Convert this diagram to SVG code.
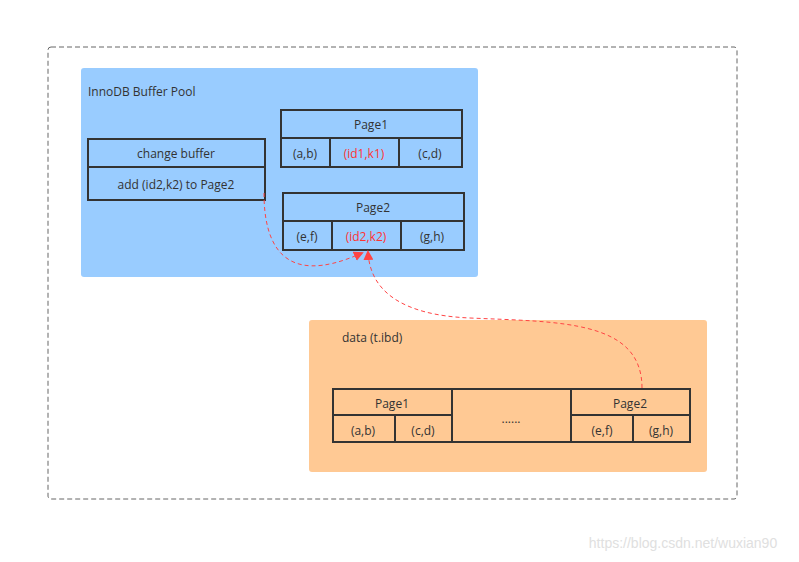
<svg xmlns="http://www.w3.org/2000/svg" width="799" height="562" viewBox="0 0 799 562">
<style>
text{font-family:"Open Sans","DejaVu Sans",sans-serif;font-size:12px;fill:#333;text-anchor:middle;dominant-baseline:central}
.c{fill:none;stroke:#333;stroke-width:2}
.r{fill:#ff3333}
.e{fill:none;stroke:#ff4444;stroke-width:1;stroke-dasharray:4,3}
</style>
<defs><marker id="a" markerWidth="10" markerHeight="10" refX="8" refY="5" orient="auto" markerUnits="userSpaceOnUse"><path d="M0,0 L10,5 L0,10 Z" fill="#ff4444"/></marker></defs>
<rect x="0" y="0" width="799" height="562" fill="#fff"/>
<rect x="48" y="47" width="689" height="452" rx="3" fill="none" stroke="#666" stroke-dasharray="5,3"/>
<g id="pool">
<rect x="81" y="68" width="397" height="209" rx="3" fill="#99ccff"/>
<text x="88" y="91" style="text-anchor:start">InnoDB Buffer Pool</text>
</g>
<g id="changebuffer">
<rect class="c" x="88" y="139" width="177" height="61"/>
<line class="c" x1="88" y1="167" x2="265" y2="167"/>
<text x="176" y="153">change buffer</text>
<text x="176" y="184">add (id2,k2) to Page2</text>
</g>
<g id="bpPage1">
<rect class="c" x="281" y="110" width="181" height="57"/>
<line class="c" x1="281" y1="138" x2="462" y2="138"/>
<line class="c" x1="330" y1="138" x2="330" y2="167"/>
<line class="c" x1="399" y1="138" x2="399" y2="167"/>
<text x="371" y="124">Page1</text>
<text x="305" y="153">(a,b)</text>
<text x="364" y="153" class="r">(id1,k1)</text>
<text x="430" y="153">(c,d)</text>
</g>
<g id="bpPage2">
<rect class="c" x="283" y="193" width="181" height="57"/>
<line class="c" x1="283" y1="221" x2="464" y2="221"/>
<line class="c" x1="332" y1="221" x2="332" y2="250"/>
<line class="c" x1="401" y1="221" x2="401" y2="250"/>
<text x="373" y="207">Page2</text>
<text x="307" y="236">(e,f)</text>
<text x="366" y="236" class="r">(id2,k2)</text>
<text x="432" y="236">(g,h)</text>
</g>
<g id="data">
<rect x="309" y="320" width="398" height="152" rx="3" fill="#ffc994"/>
<text x="342" y="337" style="text-anchor:start">data (t.ibd)</text>
</g>
<g id="dataPages">
<rect class="c" x="333" y="389" width="357" height="53"/>
<line class="c" x1="333" y1="415" x2="452" y2="415"/>
<line class="c" x1="571" y1="415" x2="690" y2="415"/>
<line class="c" x1="452" y1="389" x2="452" y2="442"/>
<line class="c" x1="571" y1="389" x2="571" y2="442"/>
<line class="c" x1="395" y1="415" x2="395" y2="442"/>
<line class="c" x1="633" y1="415" x2="633" y2="442"/>
<text x="392" y="403">Page1</text>
<text x="363" y="430">(a,b)</text>
<text x="423" y="430">(c,d)</text>
<text x="511" y="418">......</text>
<text x="630" y="403">Page2</text>
<text x="602" y="430">(e,f)</text>
<text x="661" y="430">(g,h)</text>
</g>
<g id="connectors">
<path class="e" d="M264,193 C264,240 280,290 362,253" marker-end="url(#a)"/>
<path class="e" d="M642,388 C642,320 560,322 470,318 C400,315 370,290 368,252" marker-end="url(#a)"/>
</g>
<text x="683" y="543" style="font-size:14px;fill:#e0e0e0;font-family:'Liberation Sans',sans-serif">https://blog.csdn.net/wuxian90</text>
</svg>
